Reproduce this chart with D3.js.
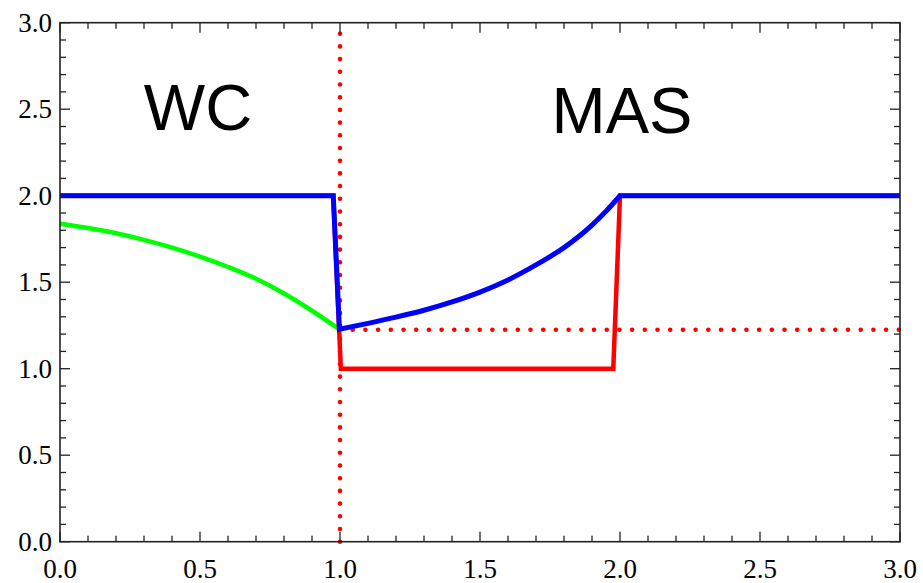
<!DOCTYPE html>
<html>
<head>
<meta charset="utf-8">
<script src="https://d3js.org/d3.v7.min.js"></script>
<style>
  body { margin: 0; background: #fff; }
</style>
</head>
<body>
<script>
    // curves
    var greenX = [0.0, 0.1, 0.2, 0.3, 0.4, 0.5, 0.6, 0.7, 0.8, 0.9, 1.0];
    var greenY = [1.838, 1.813, 1.783, 1.745, 1.70, 1.648, 1.588, 1.52, 1.435, 1.335, 1.225];

    // blue: flat + drop, then rising curve, then flat
    var blueDropX = [0.0, 0.976, 0.998];
    var blueDropY = [2.0, 2.0, 1.228];
    var blueRiseX = [0.998, 1.1, 1.2, 1.3, 1.4, 1.5, 1.6, 1.7, 1.8, 1.9, 1.95, 2.0];
    var blueRiseY = [1.228, 1.262, 1.298, 1.338, 1.386, 1.443, 1.513, 1.600, 1.700, 1.830, 1.91, 2.0];
    var blueFlatX = [2.0, 3.0];
    var blueFlatY = [2.0, 2.0];

    var redX = [0.0, 0.976, 1.003, 1.976, 2.0, 3.0];
    var redY = [2.0, 2.0, 1.0, 1.0, 2.0, 2.0];

    var dotVX = [1.0, 1.0];
    var dotVY = [0.0, 3.0];
    var dotHX = [1.0, 3.0];
    var dotHY = [1.225, 1.225];

    var xTicks = [0.0, 0.5, 1.0, 1.5, 2.0, 2.5, 3.0];
    var yTicks = [0.0, 0.5, 1.0, 1.5, 2.0, 2.5, 3.0];
    var minorTicks = d3.range(0, 31).map(function(i) { return i / 10; });

    var width = 923;
    var height = 583;
    var pLeft = 60, pRight = 900, pTop = 22.7, pBottom = 541.7;

    var x = d3.scaleLinear().domain([0, 3]).range([pLeft, pRight]);
    var y = d3.scaleLinear().domain([0, 3]).range([pBottom, pTop]);

    var svg = d3.select("body").append("svg")
        .attr("width", width)
        .attr("height", height);

    function pts(xs, ys) {
        return xs.map(function(v, i) { return [v, ys[i]]; });
    }

    var line = d3.line()
        .x(function(d) { return x(d[0]); })
        .y(function(d) { return y(d[1]); });

    var smooth = d3.line()
        .x(function(d) { return x(d[0]); })
        .y(function(d) { return y(d[1]); })
        .curve(d3.curveMonotoneX);

    var plot = svg.append("g");

    // dotted reference lines
    [[dotVX, dotVY], [dotHX, dotHY]].forEach(function(p) {
        plot.append("path")
            .attr("d", line(pts(p[0], p[1])))
            .style("fill", "none")
            .style("stroke", "#ff0000")
            .style("stroke-width", 4.6)
            .style("stroke-linecap", "round")
            .style("stroke-dasharray", "0,12.7");
    });

    plot.append("path")
        .attr("d", smooth(pts(greenX, greenY)))
        .style("fill", "none")
        .style("stroke", "#00ff00")
        .style("stroke-width", 4.5);

    plot.append("path")
        .attr("d", line(pts(redX, redY)))
        .style("fill", "none")
        .style("stroke", "#ff0000")
        .style("stroke-width", 4.5);

    var blueD = line(pts(blueDropX, blueDropY)) +
        smooth(pts(blueRiseX, blueRiseY)).replace(/^M/, "L") +
        line(pts(blueFlatX, blueFlatY)).replace(/^M/, "L");

    plot.append("path")
        .attr("d", blueD)
        .style("fill", "none")
        .style("stroke", "#0000ff")
        .style("stroke-width", 5);

    // frame with ticks on all sides
    var axisColor = "#222";
    function isMajor(v) { return Math.abs(v * 2 - Math.round(v * 2)) < 1e-6; }

    var frame = svg.append("g");
    minorTicks.forEach(function(v) {
        var len = isMajor(v) ? 10 : 6;
        frame.append("line").attr("x1", x(v)).attr("x2", x(v)).attr("y1", pBottom).attr("y2", pBottom - len);
        frame.append("line").attr("x1", x(v)).attr("x2", x(v)).attr("y1", pTop).attr("y2", pTop + len);
        frame.append("line").attr("y1", y(v)).attr("y2", y(v)).attr("x1", pLeft).attr("x2", pLeft + len);
        frame.append("line").attr("y1", y(v)).attr("y2", y(v)).attr("x1", pRight).attr("x2", pRight - len);
    });
    frame.selectAll("line").style("stroke", axisColor).style("stroke-width", 1.3);

    frame.append("rect")
        .attr("x", pLeft).attr("y", pTop)
        .attr("width", pRight - pLeft).attr("height", pBottom - pTop)
        .style("fill", "none")
        .style("stroke", axisColor)
        .style("stroke-width", 1.6);

    svg.selectAll(".xlab")
        .data(xTicks)
        .enter().append("text")
        .attr("class", "xlab")
        .attr("x", function(d) { return x(d); })
        .attr("y", 578)
        .attr("text-anchor", "middle")
        .style("font-family", "'Liberation Serif', serif")
        .style("font-size", "27px")
        .text(function(d) { return d.toFixed(1); });

    svg.selectAll(".ylab")
        .data(yTicks)
        .enter().append("text")
        .attr("class", "ylab")
        .attr("x", 52)
        .attr("y", function(d) { return y(d) + 9; })
        .attr("text-anchor", "end")
        .style("font-family", "'Liberation Serif', serif")
        .style("font-size", "27px")
        .text(function(d) { return d.toFixed(1); });

    svg.append("text")
        .attr("x", 198).attr("y", 130)
        .attr("text-anchor", "middle")
        .style("font-family", "'Liberation Sans', Arial, sans-serif")
        .style("font-size", "65px")
        .text("WC");

    svg.append("text")
        .attr("x", 622).attr("y", 133)
        .attr("text-anchor", "middle")
        .style("font-family", "'Liberation Sans', Arial, sans-serif")
        .style("font-size", "65px")
        .text("MAS");
</script>
</body>
</html>
